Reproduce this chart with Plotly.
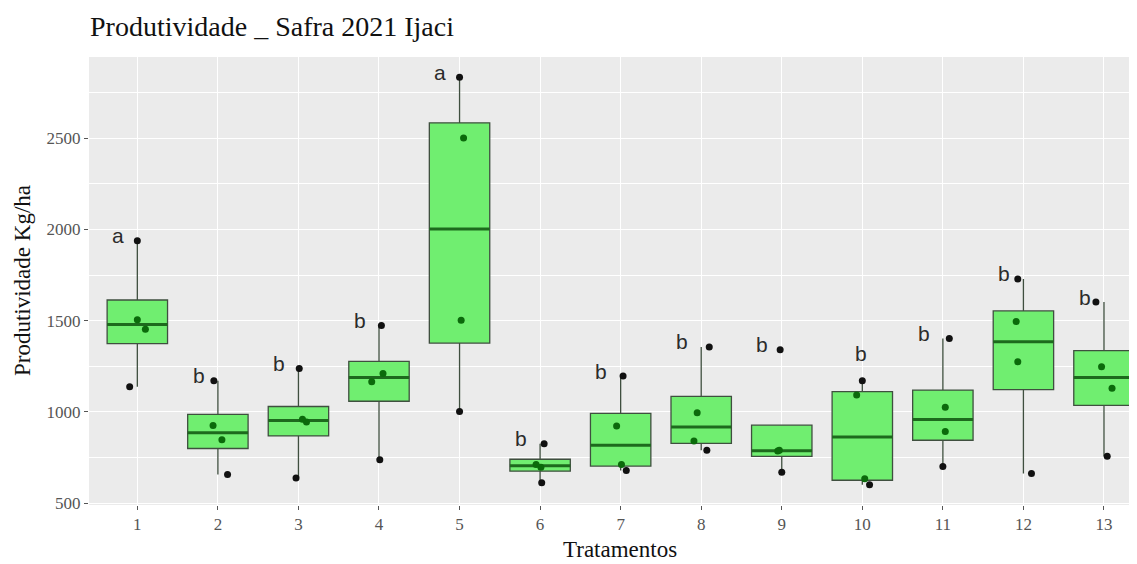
import numpy as np
import plotly.graph_objects as go

# ---------------- data ----------------
tratamentos = list(range(1, 14))
tick_labels = [str(t) for t in tratamentos]

produtividade = [
    [1138, 1453, 1505, 1938],
    [656, 847, 925, 1170],
    [638, 945, 960, 1238],
    [738, 1165, 1211, 1474],
    [1002, 1502, 2502, 2834],
    [611, 696, 712, 825],
    [679, 711, 923, 1196],
    [789, 840, 995, 1356],
    [669, 785, 789, 1341],
    [601, 633, 1092, 1170],
    [701, 892, 1025, 1402],
    [662, 1275, 1495, 1729],
    [756, 1129, 1247, 1602],
]

# horizontal jitter of each replicate (in category units), as seen in the picture
jitter = [
    [-0.095, 0.10, 0.0, 0.0],
    [0.12, 0.05, -0.06, -0.05],
    [-0.03, 0.10, 0.05, 0.01],
    [0.01, -0.09, 0.05, 0.03],
    [0.0, 0.02, 0.05, 0.0],
    [0.02, 0.01, -0.05, 0.05],
    [0.07, 0.01, -0.05, 0.03],
    [0.07, -0.09, -0.05, 0.10],
    [0.0, -0.05, -0.03, -0.02],
    [0.09, 0.03, -0.07, 0.0],
    [0.0, 0.03, 0.03, 0.08],
    [0.10, -0.07, -0.09, -0.07],
    [0.04, 0.10, -0.03, -0.10],
]

letras = ["a", "b", "b", "b", "a", "b", "b", "b", "b", "b", "b", "b", "b"]

# ---------------- statistics (ggplot-like, type-7 quantiles) ----------------
q1s, meds, q3s, lows, ups = [], [], [], [], []
for vals in produtividade:
    v = np.array(vals, dtype=float)
    q1, med, q3 = np.percentile(v, [25, 50, 75])
    iqr = q3 - q1
    lo = v[v >= q1 - 1.5 * iqr].min()
    hi = v[v <= q3 + 1.5 * iqr].max()
    q1s.append(q1); meds.append(med); q3s.append(q3)
    lows.append(min(lo, q1)); ups.append(max(hi, q3))

all_vals = np.concatenate([np.array(v, float) for v in produtividade])
vmin, vmax = all_vals.min(), all_vals.max()
rng = vmax - vmin
yrange = [vmin - 0.05 * rng, vmax + 0.05 * rng]

BOX_W = 0.75
SERIF = "Liberation Serif, Times New Roman, serif"
SANS = "Liberation Sans, Arial, sans-serif"

# the page body adds an 8px offset; the figure is sized to compensate
W, H = 1129, 556

fig = go.Figure()

fig.add_trace(go.Box(
    x=tratamentos, q1=q1s, median=meds, q3=q3s,
    lowerfence=lows, upperfence=ups,
    width=BOX_W, whiskerwidth=0,
    fillcolor="#70EE70",
    line=dict(color="#3f4f3f", width=1.3),
    boxpoints=False, showlegend=False, hoverinfo="skip",
))

# thicker median lines (ggplot fatten)
mx, my = [], []
for t, m in zip(tratamentos, meds):
    mx += [t - BOX_W / 2, t + BOX_W / 2, None]
    my += [m, m, None]
fig.add_trace(go.Scatter(x=mx, y=my, mode="lines",
                         line=dict(color="#1d6a1d", width=3),
                         showlegend=False, hoverinfo="skip"))

# jittered points (points seen through the translucent box look dark green)
px, py, pc = [], [], []
for t, vals, jit, a, b in zip(tratamentos, produtividade, jitter, q1s, q3s):
    for v, j in zip(vals, jit):
        px.append(t + j)
        py.append(v)
        pc.append("#0b6a0b" if a <= v <= b else "#111111")
fig.add_trace(go.Scatter(x=px, y=py, mode="markers",
                         marker=dict(color=pc, size=7),
                         showlegend=False, hoverinfo="skip"))

# letters of the mean-comparison test
label_nudge = {10: (0.22, 123)}
for t, vals, l in zip(tratamentos, produtividade, letras):
    dx, dy = label_nudge.get(t, (0.0, 0.0))
    fig.add_annotation(x=t - 0.24 + dx, y=max(vals) + dy, text=l,
                       showarrow=False, xanchor="center", yanchor="middle",
                       yshift=5, font=dict(family=SANS, size=21, color="#2b2b2b"))

# axis titles as annotations
fig.add_annotation(text="Tratamentos", xref="paper", yref="paper",
                   x=0.507, y=0, yshift=-44, showarrow=False,
                   xanchor="center", yanchor="middle",
                   font=dict(family=SERIF, size=23, color="#111111"))
fig.add_annotation(text="Produtividade Kg/ha", xref="paper", yref="paper",
                   x=0, xshift=-67, y=0.5, textangle=-90, showarrow=False,
                   xanchor="center", yanchor="middle",
                   font=dict(family=SERIF, size=23, color="#111111"))

fig.update_layout(
    width=W, height=H, autosize=False,
    margin=dict(l=81, r=0, t=49, b=59),
    paper_bgcolor="white", plot_bgcolor="#EBEBEB",
    title=dict(text="Produtividade _ Safra 2021 Ijaci", x=0.001, xref="paper",
               xanchor="left", y=1 - 18 / H, yref="container", yanchor="middle",
               font=dict(family=SERIF, size=28, color="#111111")),
    xaxis=dict(range=[0.4, 13.41], tickmode="array", tickvals=tratamentos,
               ticktext=tick_labels, showgrid=True, gridcolor="white",
               gridwidth=1.3, zeroline=False, showline=False,
               ticks="outside", ticklen=4, tickcolor="#555555",
               tickfont=dict(family=SERIF, size=17, color="#555555")),
    yaxis=dict(range=yrange, tick0=0, dtick=500, tickformat="d",
               showgrid=True, gridcolor="white", gridwidth=1.3,
               zeroline=False, showline=False,
               ticks="outside", ticklen=4, tickcolor="#555555",
               tickfont=dict(family=SERIF, size=17, color="#555555"),
               minor=dict(dtick=250, tick0=250, showgrid=True,
                          gridcolor="white", gridwidth=0.6)),
)

fig.write_html("out.html")
